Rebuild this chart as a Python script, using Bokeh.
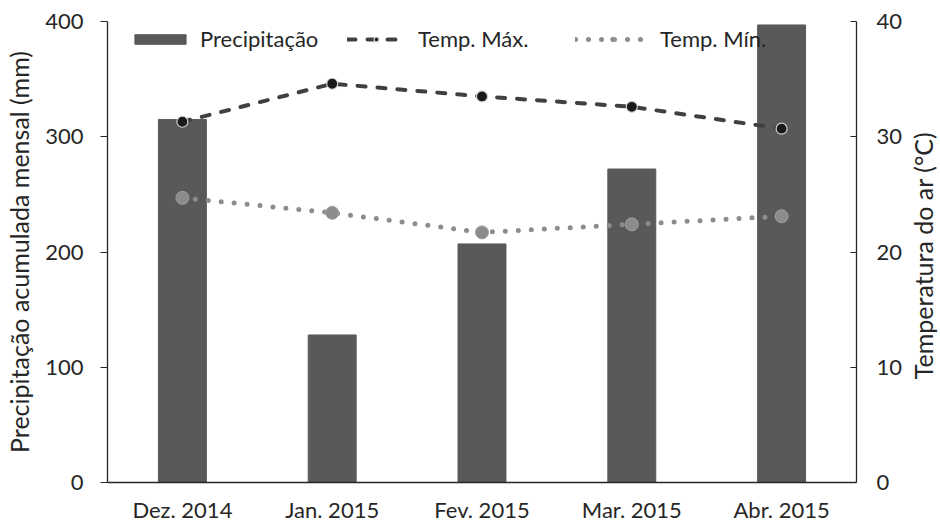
from bokeh.plotting import figure
from bokeh.models import Range1d, LinearAxis, FactorRange, Legend, LegendItem, Label
from bokeh.layouts import row
from bokeh.embed import file_html
from bokeh.resources import INLINE
import math

# ---- data ----
months = ["Dez. 2014", "Jan. 2015", "Fev. 2015", "Mar. 2015", "Abr. 2015"]
precip = [315, 128, 207, 272, 397]
tmax = [31.3, 34.6, 33.5, 32.6, 30.7]
tmin = [24.7, 23.4, 21.7, 22.4, 23.1]
precip_ticks = [0, 100, 200, 300, 400]
temp_ticks = [0, 10, 20, 30, 40]

FONT = "Lato"
TXT = "#262626"
TICK_FS = "22px"
TITLE_FS = "25px"
H = 526
W_MAIN = 905
W_SIDE = 35

p = figure(width=W_MAIN, height=H,
           x_range=FactorRange(*months, range_padding=0),
           y_range=Range1d(0, 400),
           output_backend="svg", toolbar_location=None,
           min_border_left=107, min_border_right=47,
           min_border_top=21, min_border_bottom=44)
p.extra_y_ranges = {"temp": Range1d(0, 40)}
p.outline_line_color = None
p.xgrid.grid_line_color = None
p.ygrid.grid_line_color = None
p.background_fill_color = "white"
p.border_fill_color = "white"

bars = p.vbar(x=months, top=precip, width=0.32, color="#595959")

lmax = p.line(months, tmax, y_range_name="temp", line_color="#404040",
              line_width=4, line_dash="8 12", line_cap="round")
smax = p.scatter(months, tmax, y_range_name="temp", size=11,
                 fill_color="#1a1a1a", line_color="#d0d0d0", line_width=1.2)
lmin = p.line(months, tmin, y_range_name="temp", line_color="#8c8c8c",
              line_width=5, line_dash="0 13", line_cap="round")
smin = p.scatter(months, tmin, y_range_name="temp", size=13,
                 fill_color="#8c8c8c", line_color="#a0a0a0", line_width=1)

# axes
ax = p.xaxis[0]
ax.major_tick_out = 0
ax.major_tick_in = 0
ax.axis_line_color = "#262626"
ax.axis_line_width = 1.3
ax.major_label_standoff = 13
ax.major_label_text_font = FONT
ax.major_label_text_font_size = TICK_FS
ax.major_label_text_color = TXT

ay = p.yaxis[0]
ay.ticker = precip_ticks
ay.minor_tick_line_color = None
ay.major_tick_out = 7
ay.major_tick_in = 0
ay.axis_line_color = "#262626"
ay.axis_line_width = 1.3
ay.major_tick_line_color = "#262626"
ay.major_label_standoff = 17
ay.major_label_text_font = FONT
ay.major_label_text_font_size = TICK_FS
ay.major_label_text_color = TXT
ay.axis_label = "Precipitação acumulada mensal (mm)"
ay.axis_label_text_font = FONT
ay.axis_label_text_font_style = "normal"
ay.axis_label_text_font_size = TITLE_FS
ay.axis_label_text_color = TXT
ay.axis_label_standoff = 8

ar = LinearAxis(y_range_name="temp", ticker=temp_ticks)
ar.minor_tick_line_color = None
ar.major_tick_out = 0
ar.major_tick_in = 6
ar.axis_line_color = "#262626"
ar.axis_line_width = 1.3
ar.major_tick_line_color = "#262626"
ar.major_label_standoff = 20
ar.major_label_text_font = FONT
ar.major_label_text_font_size = TICK_FS
ar.major_label_text_color = TXT
p.add_layout(ar, "right")


def make_legend(label, renderers, x, gw, standoff):
    lg = Legend(items=[LegendItem(label=label, renderers=renderers)],
                location=(x, 430), orientation="horizontal")
    lg.glyph_width = gw
    lg.glyph_height = 12
    lg.label_height = 20
    lg.label_standoff = standoff
    lg.padding = 0
    lg.margin = 0
    lg.border_line_color = None
    lg.background_fill_alpha = 0
    lg.label_text_font = FONT
    lg.label_text_font_size = TICK_FS
    lg.label_text_color = TXT
    p.add_layout(lg)


make_legend("Precipitação", [bars], 21, 64, 8)
make_legend("Temp. Máx.", [lmax, smax], 240, 58, 13)
make_legend("Temp. Mín.", [lmin, smin], 468, 75, 10)

# narrow side strip carrying the right-axis title, reading upwards
side = figure(width=W_SIDE, height=H, x_range=Range1d(0, W_SIDE),
              y_range=Range1d(0, H), x_axis_type=None, y_axis_type=None,
              output_backend="svg", toolbar_location=None,
              min_border_left=0, min_border_right=0,
              min_border_top=0, min_border_bottom=0)
side.outline_line_color = None
side.xgrid.grid_line_color = None
side.ygrid.grid_line_color = None
side.background_fill_color = "white"
side.border_fill_color = "white"
side.add_layout(Label(x=17, y=H - 267, text="Temperatura do ar (°C)",
                      angle=math.pi / 2, text_align="center",
                      text_baseline="middle", text_font=FONT,
                      text_font_size=TITLE_FS, text_color=TXT))

layout = row(p, side)
open("out.html", "w").write(file_html(layout, INLINE))
